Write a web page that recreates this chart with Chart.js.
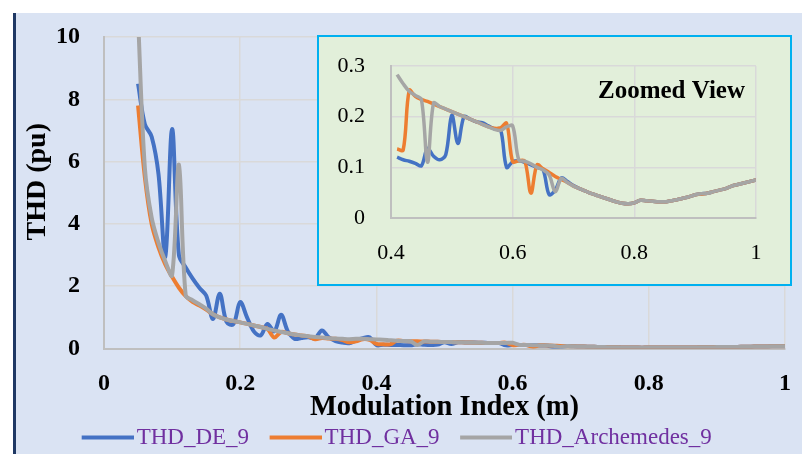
<!DOCTYPE html>
<html>
<head>
<meta charset="utf-8">
<script src="https://cdn.jsdelivr.net/npm/chart.js@4/dist/chart.umd.min.js"></script>
<style>
  html, body { margin: 0; padding: 0; width: 802px; height: 454px; overflow: hidden; background: #ffffff; position: relative; }
  #panel { position: absolute; left: 13px; top: 13px; width: 789px; height: 441px; background: #DAE3F3; border-left: 3px solid #1F3864; box-sizing: border-box; }
  #mainWrap { position: absolute; left: 12px; top: 13px; width: 790px; height: 446px; }
  #insetBox { position: absolute; left: 317px; top: 35px; width: 475px; height: 251px; background: #E2EFDA; border: 2.5px solid #00B0F0; box-sizing: border-box; }
  #insetWrap { position: absolute; left: 320px; top: 38px; width: 470px; height: 246px; }
</style>
</head>
<body>
<div id="panel"></div>
<div id="mainWrap"><canvas id="main"></canvas></div>
<div id="insetBox"></div>
<div id="insetWrap"><canvas id="inset"></canvas></div>
<script>
// Modulation index samples
const modIndex = [
  0.05, 0.06, 0.07, 0.08, 0.09, 0.10, 0.11, 0.12, 0.13, 0.14,
  0.15, 0.16, 0.17, 0.18, 0.19, 0.20, 0.21, 0.22, 0.23, 0.24,
  0.25, 0.26, 0.27, 0.28, 0.29, 0.30, 0.31, 0.32, 0.33, 0.34,
  0.35, 0.36, 0.37, 0.38, 0.39, 0.40, 0.41, 0.42, 0.43, 0.44,
  0.45, 0.46, 0.47, 0.48, 0.49, 0.50, 0.51, 0.52, 0.53, 0.54,
  0.55, 0.56, 0.57, 0.58, 0.59, 0.60, 0.61, 0.62, 0.63, 0.64,
  0.65, 0.66, 0.67, 0.68, 0.69, 0.70, 0.71, 0.72, 0.73, 0.74,
  0.75, 0.76, 0.77, 0.78, 0.79, 0.80, 0.81, 0.82, 0.83, 0.84,
  0.85, 0.86, 0.87, 0.88, 0.89, 0.90, 0.91, 0.92, 0.93, 0.94,
  0.95, 0.96, 0.97, 0.98, 0.99, 1.00
];

// THD (pu) for the differential evolution solution
const thdDE = [
  8.5, 7.2, 6.8, 5.6, 2.95, 7.05, 3.0, 2.6, 2.25, 1.95,
  1.7, 0.95, 1.76, 0.85, 0.78, 1.49, 1.0, 0.55, 0.42, 0.79,
  0.55, 1.08, 0.55, 0.31, 0.34, 0.36, 0.33, 0.58, 0.36, 0.24,
  0.19, 0.17, 0.26, 0.33, 0.36, 0.11, 0.12, 0.115, 0.112, 0.108,
  0.103, 0.1375, 0.122, 0.115, 0.125, 0.203, 0.147, 0.2, 0.195, 0.19,
  0.188, 0.182, 0.176, 0.175, 0.1, 0.111, 0.113, 0.11, 0.105, 0.1,
  0.095, 0.046, 0.055, 0.079, 0.072, 0.064, 0.058, 0.053, 0.048, 0.044,
  0.04, 0.036, 0.032, 0.029, 0.028, 0.03, 0.035, 0.034, 0.033, 0.032,
  0.032, 0.034, 0.036, 0.039, 0.042, 0.046, 0.048, 0.049, 0.052, 0.055,
  0.058, 0.063, 0.066, 0.069, 0.072, 0.075
];

// THD (pu) for the genetic algorithm solution
const thdGA = [
  7.8, 5.5, 4.0, 3.25, 2.7, 2.3, 1.95, 1.68, 1.5, 1.38,
  1.25, 1.1, 1.0, 0.93, 0.88, 0.84, 0.79, 0.74, 0.69, 0.63,
  0.35, 0.53, 0.49, 0.45, 0.42, 0.39, 0.30, 0.34, 0.32, 0.31,
  0.27, 0.2, 0.23, 0.3, 0.28, 0.15, 0.136, 0.134, 0.252, 0.24,
  0.234, 0.23, 0.225, 0.22, 0.215, 0.21, 0.205, 0.2, 0.195, 0.19,
  0.185, 0.18, 0.177, 0.178, 0.187, 0.111, 0.113, 0.112, 0.049, 0.105,
  0.097, 0.09, 0.082, 0.076, 0.07, 0.063, 0.058, 0.053, 0.048, 0.044,
  0.04, 0.036, 0.032, 0.029, 0.028, 0.03, 0.035, 0.034, 0.033, 0.032,
  0.032, 0.034, 0.036, 0.039, 0.042, 0.046, 0.047, 0.049, 0.052, 0.055,
  0.058, 0.063, 0.066, 0.069, 0.072, 0.075
];

// THD (pu) for the Archimedes optimisation solution
const thdArch = [
  10.6, 5.8, 4.2, 3.4, 2.8, 2.35, 5.9, 1.7, 1.55, 1.42,
  1.28, 1.1, 1.0, 0.93, 0.88, 0.84, 0.79, 0.74, 0.69, 0.63,
  0.58, 0.53, 0.49, 0.45, 0.42, 0.39, 0.37, 0.35, 0.33, 0.32,
  0.31, 0.30, 0.31, 0.31, 0.30, 0.29, 0.283, 0.265, 0.25, 0.242,
  0.234, 0.11, 0.227, 0.22, 0.215, 0.21, 0.205, 0.2, 0.195, 0.19,
  0.185, 0.18, 0.175, 0.173, 0.18, 0.182, 0.115, 0.112, 0.107, 0.1,
  0.095, 0.085, 0.052, 0.078, 0.07, 0.063, 0.058, 0.053, 0.048, 0.044,
  0.04, 0.036, 0.032, 0.029, 0.028, 0.03, 0.035, 0.034, 0.033, 0.032,
  0.032, 0.034, 0.036, 0.039, 0.042, 0.046, 0.048, 0.049, 0.052, 0.055,
  0.058, 0.063, 0.066, 0.069, 0.072, 0.075
];

const seriesNames = ['THD_DE_9', 'THD_GA_9', 'THD_Archemedes_9'];
const seriesColors = ['#4472C4', '#ED7D31', '#A5A5A5'];
const seriesValues = [thdDE, thdGA, thdArch];

// Tick values and their printed labels
const mainXTicks = [0, 0.2, 0.4, 0.6, 0.8, 1];
const mainXLabels = ['0', '0.2', '0.4', '0.6', '0.8', '1'];
const mainYTicks = [0, 2, 4, 6, 8, 10];
const mainYLabels = ['0', '2', '4', '6', '8', '10'];
const zoomXTicks = [0.4, 0.6, 0.8, 1];
const zoomXLabels = ['0.4', '0.6', '0.8', '1'];
const zoomYTicks = [0, 0.1, 0.2, 0.3];
const zoomYLabels = ['0', '0.1', '0.2', '0.3'];
const zoomFrom = 0.41;

const SERIF = "'Liberation Serif', 'Times New Roman', serif";

function points(values, fromX) {
  const out = [];
  modIndex.forEach((x, i) => {
    if (fromX === undefined || x >= fromX - 1e-9) out.push({ x: x, y: values[i] });
  });
  return out;
}

// Legend swatch: a short thick stroke sitting just left of the label text
function legendSwatch(color) {
  const c = document.createElement('canvas');
  c.width = 57;
  c.height = 6;
  const g = c.getContext('2d');
  g.fillStyle = color;
  g.fillRect(5, 1, 52, 4);
  return c;
}

function buildDatasets(fromX, width) {
  return seriesValues.map((vals, i) => ({
    label: seriesNames[i],
    data: points(vals, fromX),
    borderColor: seriesColors[i],
    backgroundColor: seriesColors[i],
    borderWidth: width,
    pointRadius: 0,
    pointHoverRadius: 0,
    pointStyle: legendSwatch(seriesColors[i]),
    tension: 0.35,
    fill: false,
    order: 3 - i
  }));
}

// Fixed tick positions with their own label text
function fixedTicks(values, labels) {
  return {
    afterBuildTicks(scale) { scale.ticks = values.map(v => ({ value: v })); },
    callback(value) {
      const k = values.findIndex(v => Math.abs(v - value) < 1e-9);
      return k >= 0 ? labels[k] : '';
    }
  };
}

// Grid with invisible tick marks; the tick length sets the label gap
function grid(gap) {
  return { color: '#D9D9D9', lineWidth: 1.5, drawTicks: true, tickLength: gap, tickColor: 'rgba(0,0,0,0)' };
}
const borderStyle = { color: '#BFBFBF', width: 2 };

// Rotated y-axis caption for the main chart
const yCaption = {
  id: 'yCaption',
  afterDraw(chart) {
    const ctx = chart.ctx;
    ctx.save();
    ctx.translate(chart.chartArea.left - 66, (chart.chartArea.top + chart.chartArea.bottom) / 2 - 11);
    ctx.rotate(-Math.PI / 2);
    ctx.font = "bold 28px " + SERIF;
    ctx.fillStyle = '#000000';
    ctx.textAlign = 'center';
    ctx.textBaseline = 'middle';
    ctx.fillText('THD (pu)', 0, 0);
    ctx.restore();
  }
};

const mx = fixedTicks(mainXTicks, mainXLabels);
const my = fixedTicks(mainYTicks, mainYLabels);

new Chart(document.getElementById('main'), {
  type: 'line',
  data: { datasets: buildDatasets(undefined, 4) },
  plugins: [yCaption],
  options: {
    responsive: true,
    maintainAspectRatio: false,
    animation: false,
    events: [],
    layout: { padding: { top: 24, right: 17, left: 0, bottom: 0 } },
    scales: {
      x: {
        type: 'linear',
        min: mainXTicks[0], max: mainXTicks[mainXTicks.length - 1],
        afterBuildTicks: mx.afterBuildTicks,
        ticks: { callback: mx.callback, padding: 0, maxRotation: 0, autoSkip: false, color: '#000000', font: { family: SERIF, size: 24, weight: 'bold' } },
        grid: grid(21),
        border: borderStyle,
        title: { display: true, text: 'Modulation Index (m)', color: '#000000', font: { family: SERIF, size: 28.5, weight: 'bold' }, padding: { top: 0, bottom: -22.6 } },
        afterFit(s) { s.height = 53.5; }
      },
      y: {
        min: mainYTicks[0], max: mainYTicks[mainYTicks.length - 1],
        afterBuildTicks: my.afterBuildTicks,
        ticks: { callback: my.callback, padding: 0, autoSkip: false, color: '#000000', font: { family: SERIF, size: 24, weight: 'bold' } },
        grid: grid(24),
        border: borderStyle,
        afterFit(s) { s.width = 92; }
      }
    },
    plugins: {
      legend: {
        position: 'bottom',
        labels: {
          usePointStyle: true,
          pointStyleWidth: 40,
          padding: 24,
          color: '#7030A0',
          font: { family: SERIF, size: 23 },
          sort: (a, b) => a.datasetIndex - b.datasetIndex
        }
      },
      tooltip: { enabled: false }
    }
  }
});

// Caption inside the zoomed panel
const zoomCaption = {
  id: 'zoomCaption',
  afterDraw(chart) {
    const ctx = chart.ctx;
    ctx.save();
    ctx.font = "bold 25px " + SERIF;
    ctx.fillStyle = '#000000';
    ctx.textAlign = 'right';
    ctx.textBaseline = 'alphabetic';
    ctx.fillText('Zoomed View', chart.chartArea.right - 11, chart.chartArea.top + 32);
    ctx.restore();
  }
};

const zx = fixedTicks(zoomXTicks, zoomXLabels);
const zy = fixedTicks(zoomYTicks, zoomYLabels);

new Chart(document.getElementById('inset'), {
  type: 'line',
  data: { datasets: buildDatasets(zoomFrom, 3.5) },
  plugins: [zoomCaption],
  options: {
    responsive: true,
    maintainAspectRatio: false,
    animation: false,
    events: [],
    layout: { padding: { top: 28, right: 34, left: 0, bottom: 0 } },
    scales: {
      x: {
        type: 'linear',
        min: zoomXTicks[0], max: zoomXTicks[zoomXTicks.length - 1],
        afterBuildTicks: zx.afterBuildTicks,
        ticks: { callback: zx.callback, padding: 0, maxRotation: 0, autoSkip: false, color: '#000000', font: { family: SERIF, size: 22 } },
        grid: grid(22),
        border: borderStyle,
        afterFit(s) { s.height = 66; }
      },
      y: {
        min: zoomYTicks[0], max: zoomYTicks[zoomYTicks.length - 1],
        afterBuildTicks: zy.afterBuildTicks,
        ticks: { callback: zy.callback, padding: 0, autoSkip: false, color: '#000000', font: { family: SERIF, size: 22 } },
        grid: grid(26),
        border: borderStyle,
        afterFit(s) { s.width = 71; }
      }
    },
    plugins: { legend: { display: false }, tooltip: { enabled: false } }
  }
});
</script>
</body>
</html>
